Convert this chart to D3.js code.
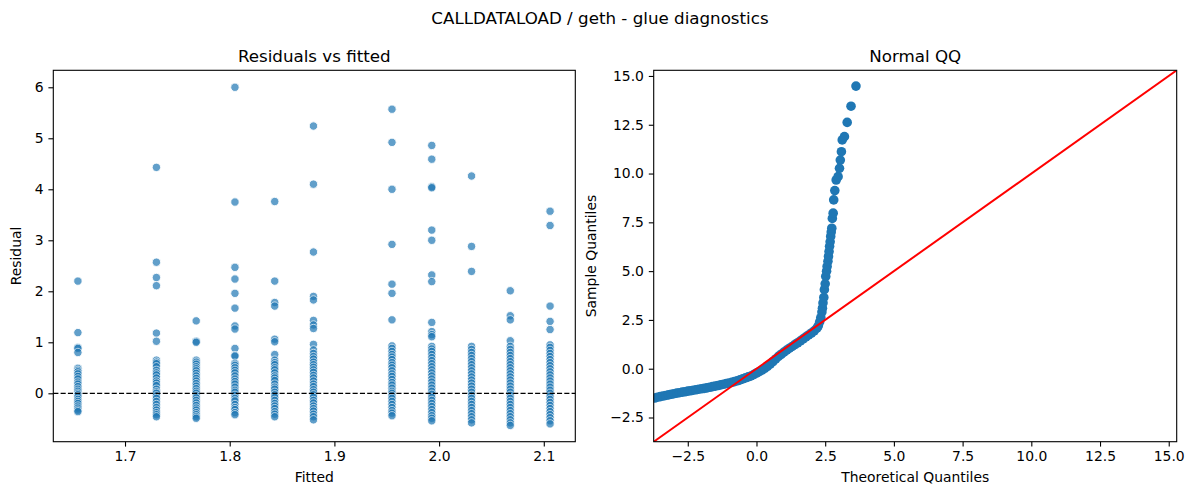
<!DOCTYPE html>
<html>
<head>
<meta charset="utf-8">
<script src="https://cdn.jsdelivr.net/npm/d3@7"></script>
<style>
  body { margin: 0; background: #fff; }
  svg { font-family: "DejaVu Sans", sans-serif; }
</style>
</head>
<body>
<svg id="fig" width="1200" height="500"></svg>
<script>
"use strict";

/*
 Residual diagnostics: residuals vs fitted on the left, normal QQ on the right.
 */

// fitted value of each column of points
var fitted = [1.655, 1.730, 1.768, 1.805, 1.843, 1.880, 1.955, 1.993, 2.031, 2.068, 2.106];

// residuals, top to bottom
var residuals = [
    [2.20, 1.19, 0.90, 0.88, 0.80, 0.49, 0.45, 0.42, 0.38, 0.33, 0.28, 0.22, 0.18, 0.13, 0.08, 0.04, 0.00, -0.03, -0.07, -0.12, -0.16, -0.20, -0.25, -0.29, -0.33, -0.36],
    [4.43, 2.57, 2.27, 2.11, 1.18, 1.02, 0.65, 0.61, 0.58, 0.52, 0.45, 0.40, 0.36, 0.30, 0.24, 0.20, 0.15, 0.08, 0.03, 0.00, -0.05, -0.10, -0.16, -0.22, -0.28, -0.33, -0.38, -0.42, -0.46],
    [1.42, 1.02, 1.00, 0.65, 0.61, 0.57, 0.52, 0.48, 0.44, 0.39, 0.34, 0.29, 0.24, 0.19, 0.14, 0.09, 0.04, 0.00, -0.05, -0.09, -0.14, -0.19, -0.24, -0.29, -0.33, -0.38, -0.42, -0.46, -0.49],
    [6.00, 3.75, 2.47, 2.24, 1.96, 1.67, 1.32, 1.26, 0.88, 0.74, 0.73, 0.59, 0.55, 0.50, 0.45, 0.40, 0.34, 0.28, 0.23, 0.18, 0.12, 0.06, 0.02, -0.04, -0.10, -0.15, -0.22, -0.28, -0.32, -0.38, -0.42],
    [3.76, 2.20, 1.78, 1.71, 1.06, 1.01, 0.76, 0.65, 0.60, 0.56, 0.50, 0.46, 0.40, 0.34, 0.30, 0.25, 0.18, 0.12, 0.08, 0.02, -0.03, -0.08, -0.14, -0.20, -0.25, -0.30, -0.36, -0.41, -0.46],
    [5.24, 4.10, 2.77, 1.90, 1.83, 1.43, 1.34, 1.27, 0.96, 0.85, 0.78, 0.72, 0.67, 0.61, 0.56, 0.51, 0.46, 0.41, 0.35, 0.30, 0.24, 0.18, 0.13, 0.07, 0.02, -0.03, -0.08, -0.14, -0.19, -0.25, -0.30, -0.35, -0.41, -0.46, -0.52],
    [5.57, 4.92, 4.00, 2.92, 2.14, 1.96, 1.44, 0.93, 0.88, 0.82, 0.76, 0.71, 0.66, 0.60, 0.55, 0.50, 0.44, 0.38, 0.33, 0.27, 0.21, 0.16, 0.10, 0.04, 0.00, -0.05, -0.10, -0.16, -0.22, -0.28, -0.34, -0.39, -0.44],
    [4.86, 4.59, 4.05, 4.03, 3.20, 3.00, 2.32, 2.19, 1.39, 1.21, 1.15, 1.11, 0.92, 0.87, 0.82, 0.76, 0.70, 0.64, 0.58, 0.52, 0.46, 0.40, 0.34, 0.28, 0.22, 0.16, 0.10, 0.04, -0.02, -0.08, -0.14, -0.20, -0.26, -0.32, -0.38, -0.44, -0.49, -0.54],
    [4.26, 2.88, 2.39, 0.92, 0.86, 0.80, 0.74, 0.68, 0.62, 0.56, 0.50, 0.44, 0.38, 0.32, 0.26, 0.20, 0.14, 0.08, 0.02, -0.04, -0.10, -0.16, -0.22, -0.28, -0.34, -0.40, -0.46, -0.52, -0.58],
    [2.01, 1.52, 1.44, 1.03, 0.92, 0.86, 0.80, 0.74, 0.68, 0.62, 0.56, 0.50, 0.44, 0.38, 0.32, 0.26, 0.20, 0.14, 0.08, 0.02, -0.04, -0.10, -0.16, -0.22, -0.28, -0.34, -0.40, -0.46, -0.52, -0.58, -0.63],
    [3.57, 3.29, 1.71, 1.41, 1.25, 0.95, 0.90, 0.84, 0.78, 0.72, 0.66, 0.60, 0.54, 0.48, 0.42, 0.36, 0.30, 0.24, 0.18, 0.12, 0.06, 0.00, -0.06, -0.12, -0.18, -0.24, -0.30, -0.36, -0.42, -0.48, -0.54, -0.60]
];

// normal QQ points
var theoretical = [
    -3.70, -3.60, -3.50, -3.40, -3.30, -3.20, -3.10, -3.00, -2.90, -2.80,
    -2.70, -2.60, -2.50, -2.40, -2.30, -2.20, -2.10, -2.00, -1.90, -1.80,
    -1.70, -1.60, -1.50, -1.40, -1.30, -1.20, -1.10, -1.00, -0.90, -0.80,
    -0.70, -0.60, -0.50, -0.40, -0.30, -0.20, -0.10, 0.00, 0.10, 0.20,
    0.30, 0.40, 0.50, 0.60, 0.70, 0.80, 0.90, 1.00, 1.10, 1.20,
    1.30, 1.40, 1.50, 1.60, 1.70, 1.80, 1.90, 2.00, 2.10, 2.20,
    2.25, 2.30, 2.34, 2.38, 2.40, 2.42, 2.45, 2.47, 2.50, 2.52,
    2.55, 2.57, 2.60, 2.62, 2.64, 2.66, 2.68, 2.70, 2.72, 2.74,
    2.76, 2.79, 2.81, 2.85, 2.90, 2.97, 3.02, 3.05, 3.09, 3.12,
    3.20, 3.30, 3.44, 3.62
];
var sample = [
    -1.50, -1.46, -1.43, -1.40, -1.37, -1.34, -1.31, -1.28, -1.25, -1.23,
    -1.20, -1.18, -1.15, -1.13, -1.10, -1.08, -1.05, -1.03, -1.01, -0.98,
    -0.95, -0.92, -0.89, -0.86, -0.83, -0.80, -0.76, -0.73, -0.70, -0.66,
    -0.62, -0.57, -0.52, -0.47, -0.42, -0.37, -0.30, -0.22, -0.15, -0.07,
    0.02, 0.12, 0.24, 0.37, 0.50, 0.63, 0.74, 0.85, 0.95, 1.05,
    1.14, 1.24, 1.33, 1.43, 1.53, 1.63, 1.73, 1.83, 1.94, 2.08,
    2.20, 2.40, 2.62, 2.90, 3.10, 3.37, 3.65, 4.05, 4.35, 4.73,
    5.00, 5.24, 5.50, 5.75, 6.00, 6.27, 6.50, 6.78, 7.00, 7.20,
    7.70, 7.97, 8.65, 9.13, 9.67, 9.84, 10.27, 10.69, 11.12, 11.72,
    11.89, 12.62, 13.45, 14.48
];

var fittedTicks = [1.7, 1.8, 1.9, 2.0, 2.1],
    residualTicks = [0, 1, 2, 3, 4, 5, 6],
    quantileTicks = [-2.5, 0, 2.5, 5, 7.5, 10, 12.5, 15];

var svg = d3.select("#fig"),
    blue = "#1f77b4",
    tickFont = 13.9;

var left = {x0: 53.3, x1: 575.3, y0: 70.3, y1: 441.7},
    right = {x0: 653.7, x1: 1176.7, y0: 70.3, y1: 441.7};

var xFit = d3.scaleLinear().domain([1.6315, 2.1301]).range([left.x0, left.x1]),
    yRes = d3.scaleLinear().domain([-0.949, 6.333]).range([left.y1, left.y0]),
    xTheo = d3.scaleLinear().domain([-3.74, 15.29]).range([right.x0, right.x1]),
    ySamp = d3.scaleLinear().domain([-3.74, 15.29]).range([right.y1, right.y0]);

svg.append("text")
    .attr("x", 600)
    .attr("y", 24)
    .attr("text-anchor", "middle")
    .attr("font-size", 16.7)
    .text("CALLDATALOAD / geth - glue diagnostics");

function clip(id, box) {
    svg.append("clipPath").attr("id", id)
	.append("rect")
	.attr("x", box.x0).attr("y", box.y0)
	.attr("width", box.x1 - box.x0).attr("height", box.y1 - box.y0);
}

function styleAxis(g) {
    g.select(".domain").remove();
    g.attr("font-family", null).attr("font-size", tickFont);
    g.selectAll(".tick line").attr("stroke-width", 1.1);
    g.selectAll(".tick text").attr("fill", "#000");
}

function frame(box, opts) {
    svg.append("g")
	.attr("transform", "translate(0," + box.y1 + ")")
	.call(d3.axisBottom(opts.x).tickValues(opts.xTicks).tickFormat(opts.xFormat)
	      .tickSize(4.9).tickPadding(4.9).tickSizeOuter(0))
	.call(styleAxis);
    svg.append("g")
	.attr("transform", "translate(" + box.x0 + ",0)")
	.call(d3.axisLeft(opts.y).tickValues(opts.yTicks).tickFormat(opts.yFormat)
	      .tickSize(4.9).tickPadding(4.9).tickSizeOuter(0))
	.call(styleAxis);

    svg.append("rect")
	.attr("x", box.x0).attr("y", box.y0)
	.attr("width", box.x1 - box.x0).attr("height", box.y1 - box.y0)
	.attr("fill", "none").attr("stroke", "#000").attr("stroke-width", 1.1);

    svg.append("text")
	.attr("x", (box.x0 + box.x1) / 2).attr("y", box.y0 - 8.5)
	.attr("text-anchor", "middle").attr("font-size", 16.7)
	.text(opts.title);
    svg.append("text")
	.attr("x", (box.x0 + box.x1) / 2).attr("y", 481.5)
	.attr("text-anchor", "middle").attr("font-size", tickFont)
	.text(opts.xLabel);
    svg.append("text")
	.attr("transform", "translate(" + opts.yLabelX + "," + (box.y0 + box.y1) / 2 + ") rotate(-90)")
	.attr("text-anchor", "middle").attr("font-size", tickFont)
	.text(opts.yLabel);
}

clip("clipL", left);
clip("clipR", right);

/* left: residuals vs fitted */
var resPoints = [];
fitted.forEach(function(f, i) {
    residuals[i].forEach(function(r) {
	resPoints.push({x: f, y: r});
    });
});

svg.append("g")
    .attr("clip-path", "url(#clipL)")
    .selectAll("circle")
    .data(resPoints)
    .enter().append("circle")
    .attr("cx", function(d) { return xFit(d.x); })
    .attr("cy", function(d) { return yRes(d.y); })
    .attr("r", 4.2)
    .attr("fill", blue)
    .attr("stroke", "#fff")
    .attr("stroke-width", 0.9)
    .attr("opacity", 0.7);

svg.append("line")
    .attr("x1", left.x0).attr("x2", left.x1)
    .attr("y1", yRes(0)).attr("y2", yRes(0))
    .attr("stroke", "#000")
    .attr("stroke-width", 1.3)
    .attr("stroke-dasharray", "5.1,2.2");

frame(left, {
    title: "Residuals vs fitted", xLabel: "Fitted", yLabel: "Residual", yLabelX: 21,
    x: xFit, y: yRes,
    xTicks: fittedTicks, yTicks: residualTicks,
    xFormat: d3.format(".1f"), yFormat: d3.format("d")
});

/* right: normal QQ */
var qq = theoretical.map(function(t, i) {
    return {x: t, y: sample[i]};
});

svg.append("g")
    .attr("clip-path", "url(#clipR)")
    .selectAll("circle")
    .data(qq)
    .enter().append("circle")
    .attr("cx", function(d) { return xTheo(d.x); })
    .attr("cy", function(d) { return ySamp(d.y); })
    .attr("r", 4.8)
    .attr("fill", blue);

svg.append("line")
    .attr("clip-path", "url(#clipR)")
    .attr("x1", xTheo(-3.74)).attr("y1", ySamp(-3.74))
    .attr("x2", xTheo(15.29)).attr("y2", ySamp(15.29))
    .attr("stroke", "#ff0000")
    .attr("stroke-width", 2);

frame(right, {
    title: "Normal QQ", xLabel: "Theoretical Quantiles", yLabel: "Sample Quantiles", yLabelX: 596,
    x: xTheo, y: ySamp,
    xTicks: quantileTicks, yTicks: quantileTicks,
    xFormat: d3.format(".1f"), yFormat: d3.format(".1f")
});
</script>
</body>
</html>
